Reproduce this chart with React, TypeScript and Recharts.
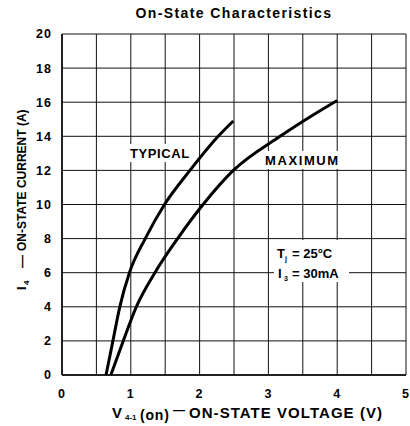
import { LineChart, Line, XAxis, YAxis, CartesianGrid, Customized } from 'recharts'

// (V in volts, I in amps)
const TYPICAL_V = [0.64, 0.74, 0.84, 0.98, 1.21, 1.49, 1.86, 2.27, 2.49]
const TYPICAL_I = [0, 2, 4, 6, 8, 10, 12, 14, 14.9]
const MAX_V = [0.71, 0.89, 1.08, 1.35, 1.68, 2.05, 2.49, 3.17, 3.55, 4.0]
const MAX_I = [0, 2, 4, 6, 8, 10, 12, 14, 15, 16.1]

const X_TICKS = [0, 0.5, 1, 1.5, 2, 2.5, 3, 3.5, 4, 4.5, 5]
const Y_TICKS = [0, 2, 4, 6, 8, 10, 12, 14, 16, 18, 20]

const FONT = '"Liberation Sans", Arial, sans-serif'

const typical = TYPICAL_V.map((v, i) => ({ v, i: TYPICAL_I[i] }))
const maximum = MAX_V.map((v, i) => ({ v, i: MAX_I[i] }))

const tickStyle = { fontSize: 12.5, fontWeight: 700, fill: '#000', fontFamily: FONT, letterSpacing: 1 }

function Labels() {
  const bold = { fontFamily: FONT, fontWeight: 700, fill: '#000' }
  return (
    <g>
      <text x={234} y={18} textAnchor="middle" fontSize={14} letterSpacing={1.4} {...bold}>
        On-State Characteristics
      </text>

      {/* x axis title */}
      <text x={112} y={418} fontSize={15} {...bold}>V</text>
      <text x={125} y={420} fontSize={8} {...bold}>4-1</text>
      <text x={140} y={420} fontSize={14} letterSpacing={0.8} {...bold}>(on)</text>
      <text x={173} y={414} fontSize={12} {...bold}>—</text>
      <text x={189} y={418} fontSize={15} letterSpacing={1.05} {...bold}>ON-STATE VOLTAGE (V)</text>

      {/* y axis title */}
      <g transform="rotate(-90)">
        <text x={-290} y={26} fontSize={13} {...bold}>I</text>
        <text x={-285} y={29} fontSize={8} {...bold}>4</text>
        <text x={-268} y={26} fontSize={13} {...bold}>—</text>
        <text x={-251} y={26} fontSize={12} {...bold}>ON-STATE CURRENT (A)</text>
      </g>

      {/* curve labels */}
      <rect x={127} y={144} width={67} height={18} fill="#fff" />
      <text x={130} y={158} fontSize={13} letterSpacing={0.6} {...bold}>TYPICAL</text>
      <rect x={262} y={151} width={81} height={18} fill="#fff" />
      <text x={265} y={165} fontSize={13} letterSpacing={1.6} {...bold}>MAXIMUM</text>

      {/* conditions */}
      <rect x={274} y={240} width={75} height={42} fill="#fff" />
      <text x={277} y={258} fontSize={13} {...bold}>T</text>
      <text x={285} y={261} fontSize={7} {...bold}>j</text>
      <text x={292} y={258} fontSize={13} {...bold}>= 25°C</text>
      <text x={278} y={278} fontSize={13} {...bold}>I</text>
      <text x={284} y={281} fontSize={7} {...bold}>3</text>
      <text x={292} y={278} fontSize={13} {...bold}>= 30mA</text>
    </g>
  )
}

export default function App() {
  return (
    <div style={{ position: 'absolute', left: 0, top: 0, width: 410, height: 426, background: '#fff' }}>
      <LineChart width={410} height={426} margin={{ top: 34, right: 4, left: 0, bottom: 0 }}>
        <CartesianGrid stroke="#111" strokeWidth={1} />
        <XAxis
          type="number"
          dataKey="v"
          domain={[0, 5]}
          ticks={X_TICKS}
          tickFormatter={(t: number) => (Number.isInteger(t) ? String(t) : '')}
          tick={tickStyle}
          tickLine={false}
          tickSize={6}
          tickMargin={8}
          axisLine={{ stroke: '#000', strokeWidth: 1.5 }}
          height={51}
          allowDataOverflow
        />
        <YAxis
          type="number"
          domain={[0, 20]}
          ticks={Y_TICKS}
          tick={tickStyle}
          tickLine={false}
          tickSize={6}
          tickMargin={4}
          axisLine={{ stroke: '#000', strokeWidth: 1.5 }}
          width={62}
        />
        <Customized component={Labels} />
        <Line
          data={typical}
          dataKey="i"
          type="monotone"
          stroke="#000"
          strokeWidth={3}
          dot={false}
          isAnimationActive={false}
        />
        <Line
          data={maximum}
          dataKey="i"
          type="monotone"
          stroke="#000"
          strokeWidth={3}
          dot={false}
          isAnimationActive={false}
        />
      </LineChart>
    </div>
  )
}
